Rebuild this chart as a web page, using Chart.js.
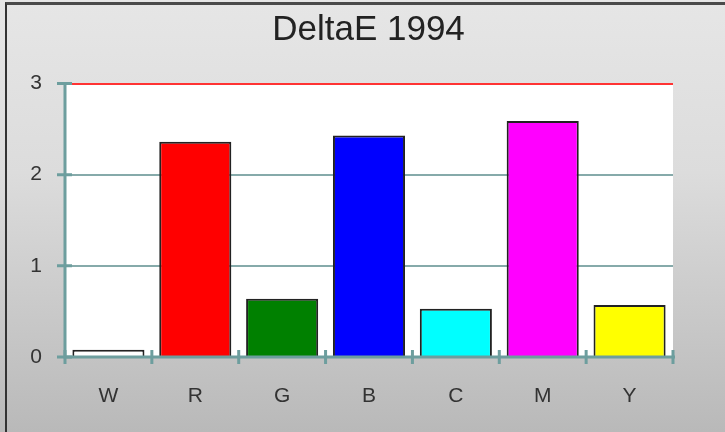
<!DOCTYPE html>
<html><head><meta charset="utf-8">
<script src="https://cdn.jsdelivr.net/npm/chart.js@4/dist/chart.umd.min.js"></script>
<style>
html,body{margin:0;padding:0;}
body{width:725px;height:432px;overflow:hidden;background:linear-gradient(to bottom,#e6e6e6 0%,#dcdcdc 40%,#b9b9b9 100%);position:relative;}
#frame{position:absolute;left:5px;top:2px;right:0;bottom:0;border-top:3px solid #4a4a4a;border-left:2px solid #333;}
#wrap{position:absolute;left:0;top:0;width:725px;height:432px;}
</style></head>
<body><div id="frame"></div><div id="wrap"><canvas id="c" width="725" height="432"></canvas></div>
<script>
const categories = ['W','R','G','B','C','M','Y'];
const deltaE = [0.08, 2.36, 0.64, 2.43, 0.53, 2.59, 0.57];
const barColors = ['#ffffff','#ff0000','#008000','#0000ff','#00ffff','#ff00ff','#ffff00'];
const yTicks = [0,1,2,3];
const titleText = 'DeltaE 1994';

const AXIS = '#6d9e9e';
const plotBg = {
  id:'plotBg',
  beforeDraw(chart){
    const {ctx, chartArea:a} = chart;
    ctx.save(); ctx.fillStyle='#ffffff';
    ctx.fillRect(a.left, a.top, a.right-a.left, a.bottom-a.top);
    ctx.restore();
  }
};
const axesPlugin = {
  id:'axesPlugin',
  afterDatasetsDraw(chart){
    const {ctx, chartArea:a, scales} = chart;
    const xs = scales.x, ys = scales.y;
    ctx.save();
    ctx.strokeStyle = AXIS; ctx.lineWidth = 3; ctx.lineCap='butt';
    ctx.beginPath();
    ctx.moveTo(a.left, ys.getPixelForValue(3)-1); ctx.lineTo(a.left, a.bottom+1.5);
    ctx.moveTo(a.left-1.5, a.bottom); ctx.lineTo(a.right+2, a.bottom);
    ctx.stroke();
    ctx.lineWidth = 3;
    ctx.beginPath();
    yTicks.forEach(v=>{
      const y = ys.getPixelForValue(v);
      ctx.moveTo(a.left-8, y); ctx.lineTo(a.left+7, y);
    });
    const n = categories.length;
    const step = xs.getPixelForValue(1)-xs.getPixelForValue(0);
    for(let i=0;i<=n;i++){
      const x = (i<n ? xs.getPixelForValue(i) : xs.getPixelForValue(n-1)+step) - step/2;
      ctx.moveTo(x, a.bottom-7); ctx.lineTo(x, a.bottom+7);
    }
    ctx.stroke();
    ctx.restore();
  }
};

new Chart(document.getElementById('c'), {
  type:'bar',
  data:{
    labels: categories,
    datasets:[{
      data: deltaE,
      backgroundColor: barColors,
      borderColor:'#222222',
      borderWidth:2,
      categoryPercentage:1,
      barPercentage:0.83
    }]
  },
  options:{
    responsive:false,
    animation:false,
    devicePixelRatio:1,
    layout:{padding:{left:12,right:0,top:0,bottom:0}},
    plugins:{
      legend:{display:false},
      tooltip:{enabled:false},
      title:{display:true,text:titleText,color:'#222222',
        font:{family:'Liberation Sans',size:35,weight:'normal'},
        padding:{top:9.5,bottom:32}}
    },
    scales:{
      x:{
        offset:true,
        grid:{display:false},
        border:{display:false},
        ticks:{font:{family:'Liberation Sans',size:21},color:'#333333',padding:19},
        afterFit(s){ s.height = 75; }
      },
      y:{
        min:0,max:3,
        ticks:{stepSize:1,font:{family:'Liberation Sans',size:21},color:'#333333',padding:23},
        grid:{drawTicks:false,
          color:(c)=> c.tick && c.tick.value===3 ? '#ff3333' : (c.tick && c.tick.value===0 ? 'rgba(0,0,0,0)' : '#86aaaa'),
          lineWidth:2},
        border:{display:false},
        afterFit(s){ s.width = 53; }
      },
      yPad:{
        position:'right',
        min:0,max:1,
        ticks:{display:false},
        grid:{display:false},
        border:{display:false},
        afterFit(s){ s.width = 52; }
      }
    }
  },
  plugins:[plotBg, axesPlugin]
});
</script>
</body></html>
